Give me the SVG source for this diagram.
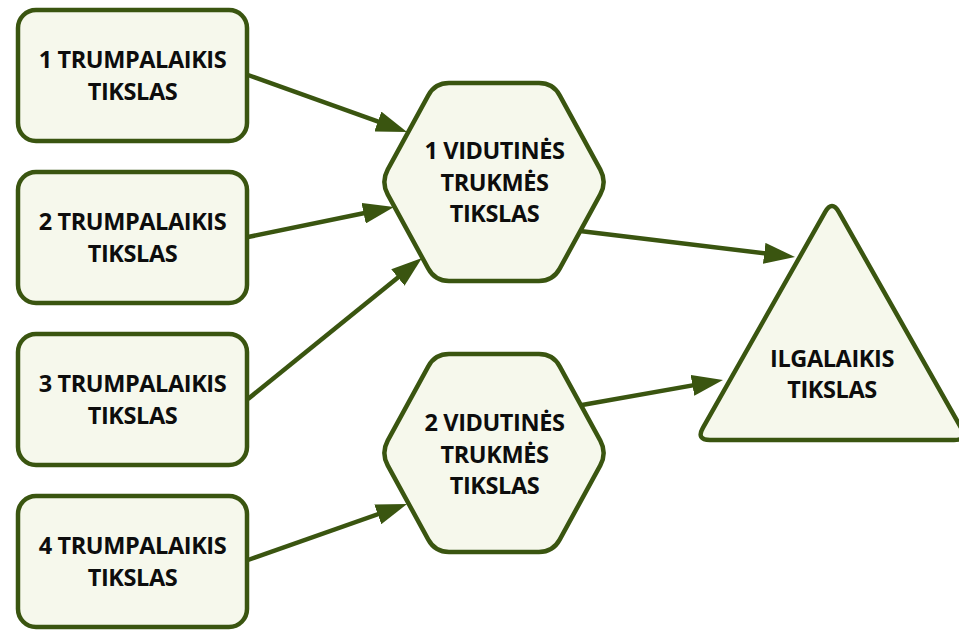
<svg xmlns="http://www.w3.org/2000/svg" width="959" height="630" viewBox="0 0 959 630">
<style>
.node{fill:#f6f8ec;stroke:#3a5510;stroke-width:4.5;stroke-linejoin:round}
.lbl{font-family:"Open Sans","Liberation Sans",sans-serif;font-weight:700;font-size:23.5px;letter-spacing:-0.4px;fill:#0d0d0d;text-anchor:middle}
.conn{stroke:#3a5510;stroke-width:4.5;fill:none;marker-end:url(#ah)}
</style>
<defs>
<marker id="ah" markerUnits="userSpaceOnUse" markerWidth="31" markerHeight="21" refX="16" refY="10.5" orient="auto">
<path d="M0,0 L31,10.5 L0,21 Z" fill="#3a5510"/>
</marker>
<path id="hexshape" d="M -106.3,-12.3 L -65.7,-86.7 Q -59,-99 -45,-99 L 45,-99 Q 59,-99 65.7,-86.7 L 106.3,-12.3 Q 113,0 106.3,12.3 L 65.7,86.7 Q 59,99 45,99 L -45,99 Q -59,99 -65.7,86.7 L -106.3,12.3 Q -113,0 -106.3,-12.3 Z"/>
</defs>
<g id="connectors">
<line class="conn" x1="248" y1="75" x2="392.9" y2="126.9"/>
<line class="conn" x1="248" y1="237" x2="379.3" y2="210.0"/>
<line class="conn" x1="248" y1="399" x2="410.3" y2="267.4"/>
<line class="conn" x1="248" y1="560" x2="392.9" y2="509.0"/>
<line class="conn" x1="580" y1="231" x2="780.1" y2="255.2"/>
<line class="conn" x1="582" y1="405" x2="708.2" y2="382.6"/>
</g>
<g id="st1">
<rect class="node" x="18" y="10" width="229" height="131" rx="18"/>
<text class="lbl" x="132.5" y="68">1 TRUMPALAIKIS</text>
<text class="lbl" x="132.5" y="100">TIKSLAS</text>
</g>
<g id="st2">
<rect class="node" x="18" y="172" width="229" height="131" rx="18"/>
<text class="lbl" x="132.5" y="230">2 TRUMPALAIKIS</text>
<text class="lbl" x="132.5" y="262">TIKSLAS</text>
</g>
<g id="st3">
<rect class="node" x="18" y="334" width="229" height="131" rx="18"/>
<text class="lbl" x="132.5" y="392">3 TRUMPALAIKIS</text>
<text class="lbl" x="132.5" y="424">TIKSLAS</text>
</g>
<g id="st4">
<rect class="node" x="18" y="496" width="229" height="131" rx="18"/>
<text class="lbl" x="132.5" y="554">4 TRUMPALAIKIS</text>
<text class="lbl" x="132.5" y="586">TIKSLAS</text>
</g>
<g id="mt1">
<use href="#hexshape" class="node" transform="translate(494,182)"/>
<text class="lbl" x="494.5" y="159">1 VIDUTINĖS</text>
<text class="lbl" x="494.5" y="190.5">TRUKMĖS</text>
<text class="lbl" x="494.5" y="222">TIKSLAS</text>
</g>
<g id="mt2">
<use href="#hexshape" class="node" transform="translate(494,453)"/>
<text class="lbl" x="494.5" y="431">2 VIDUTINĖS</text>
<text class="lbl" x="494.5" y="462.5">TRUKMĖS</text>
<text class="lbl" x="494.5" y="494">TIKSLAS</text>
</g>
<g id="lt">
<path class="node" d="M 825.1,212.2 Q 832,200 838.9,212.2 L 961.1,427.8 Q 968,440 954,440 L 710,440 Q 696,440 702.9,427.8 Z"/>
<text class="lbl" x="832" y="367">ILGALAIKIS</text>
<text class="lbl" x="832" y="398">TIKSLAS</text>
</g>
</svg>
